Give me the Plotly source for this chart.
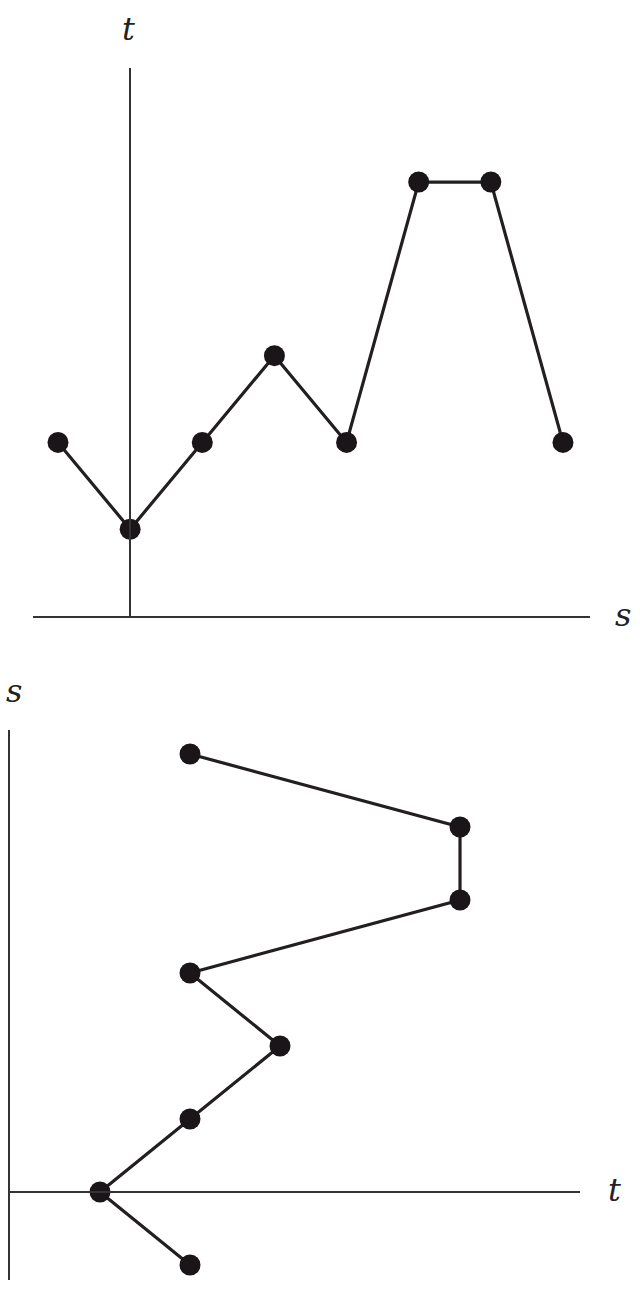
import plotly.graph_objects as go

# top graph: t against s
s_top = [-1, 0, 1, 2, 3, 4, 5, 6]
t_top = [2, 1, 2, 3, 2, 5, 5, 2]

# bottom graph: the same points with the axes swapped
t_bot = [2, 1, 2, 3, 2, 5, 5, 2]
s_bot = [-1, 0, 1, 2, 3, 4, 5, 6]

W, H = 640, 1294

def px(x):
    return x / W

def py(y):
    return 1 - y / H

line_style = dict(color="#231f20", width=3.2)
marker_style = dict(color="#1a1518", size=21)

fig = go.Figure()
fig.add_trace(go.Scatter(x=s_top, y=t_top, mode="lines+markers", line=line_style,
                         marker=marker_style, xaxis="x", yaxis="y", cliponaxis=False))
fig.add_trace(go.Scatter(x=t_bot, y=s_bot, mode="lines+markers", line=line_style,
                         marker=marker_style, xaxis="x2", yaxis="y2", cliponaxis=False))

ax = dict(showgrid=False, zeroline=False, showticklabels=False, ticks="",
          showline=True, linecolor="#333333", linewidth=1.5, fixedrange=True)

fig.update_layout(
    width=W, height=H,
    margin=dict(l=0, r=0, t=0, b=0),
    paper_bgcolor="white", plot_bgcolor="rgba(0,0,0,0)",
    showlegend=False,
    font=dict(family="DejaVu Serif"),
    xaxis=dict(ax, domain=[px(33), px(590)], range=[-1.3466, 6.3745], anchor="y"),
    yaxis=dict(ax, domain=[py(616), py(68)], range=[0, 6.314],
               anchor="free", position=px(130.14)),
    xaxis2=dict(ax, domain=[px(10), px(580)], range=[0, 6.333],
                anchor="free", position=py(1192)),
    yaxis2=dict(ax, domain=[py(1280), py(730)], range=[-1.2055, 6.329], anchor="x2"),
)

label_font = dict(family="DejaVu Serif", size=32, color="#222222")
labels = [("t", 128, 29), ("s", 623, 615), ("s", 14, 691), ("t", 614, 1190)]
for text, x, y in labels:
    fig.add_annotation(text="<i>" + text + "</i>", x=px(x), y=py(y), xref="paper", yref="paper",
                       showarrow=False, font=label_font, xanchor="center", yanchor="middle")

# drop the default 8px body margin so the figure sits at the page corner
fig.write_html("out.html", config={"displayModeBar": False},
               post_script="document.body.style.margin='0';")
